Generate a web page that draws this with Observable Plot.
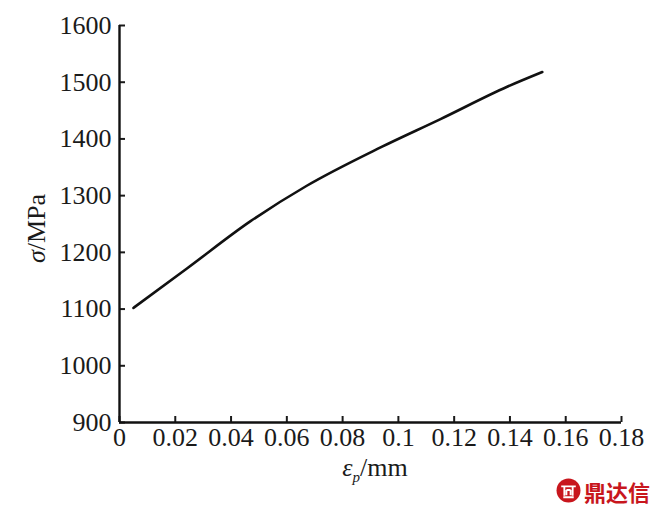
<!DOCTYPE html>
<html><head><meta charset="utf-8">
<script src="https://cdn.jsdelivr.net/npm/d3@7"></script>
<script src="https://cdn.jsdelivr.net/npm/@observablehq/plot@0.6"></script>
<style>
body{margin:0;background:#fff;}
#wrap{position:relative;width:660px;height:514px;background:#fff;}
#wrap svg text{font-family:"Liberation Serif",serif !important;}
#wm{position:absolute;left:556px;top:478px;display:flex;align-items:center;gap:3px;color:#c8161d;font-family:"Noto Sans CJK SC",sans-serif;font-weight:700;font-size:22px;line-height:1;}
</style></head><body><div id="wrap"></div>
<script>
// strain εp (mm) and stress σ (MPa)
const strain = [0.005, 0.0243, 0.047, 0.067, 0.0936, 0.1151, 0.139, 0.1516];
const stress = [1102, 1172, 1255, 1317, 1385, 1435, 1492, 1518];
const xTicks = [0, 0.02, 0.04, 0.06, 0.08, 0.1, 0.12, 0.14, 0.16, 0.18];
const xTickLabels = ["0", "0.02", "0.04", "0.06", "0.08", "0.1", "0.12", "0.14", "0.16", "0.18"];
const yTicks = [900, 1000, 1100, 1200, 1300, 1400, 1500, 1600];
const yTickLabels = ["900", "1000", "1100", "1200", "1300", "1400", "1500", "1600"];

const data = strain.map((x, i) => ({x, y: stress[i]}));
const serif = "Liberation Serif";

const plot = Plot.plot({
  width: 660, height: 514,
  marginLeft: 119, marginRight: 39, marginTop: 25, marginBottom: 92,
  style: {fontFamily: serif, fontSize: "26px", color: "#1a1a1a", background: "#fff", overflow: "visible"},
  x: {domain: [0, 0.18]},
  y: {domain: [900, 1600]},
  marks: [
    Plot.axisX({ticks: xTicks, tickFormat: (d, i) => xTickLabels[i], tickSize: -6, tickPadding: 11, strokeWidth: 2, label: null, fontSize: 26}),
    Plot.axisY({ticks: yTicks, tickFormat: (d, i) => yTickLabels[i], tickSize: -6, tickPadding: 14, strokeWidth: 2, label: null, fontSize: 26}),
    Plot.ruleX([0], {y1: 900, y2: 1600, strokeWidth: 2.4, stroke: "#111"}),
    Plot.ruleY([900], {x1: 0, x2: 0.18, strokeWidth: 2.4, stroke: "#111"}),
    Plot.line(data, {x: "x", y: "y", stroke: "#111", strokeWidth: 2.6, curve: "monotone-x"})
  ]
});
document.getElementById("wrap").appendChild(plot);

const svg = d3.select(plot);
svg.selectAll("g[aria-label$='tick label'], g[aria-label$='tick label'] text")
  .attr("font-family", serif).style("font-family", "'Liberation Serif', serif");

// axis titles with italic symbols
const xs = plot.scale("x"), ys = plot.scale("y");
const xl = svg.append("text")
  .attr("x", (xs.apply(0) + xs.apply(0.18)) / 2 + 5)
  .attr("y", 476)
  .attr("text-anchor", "middle")
  .attr("font-size", 26).attr("fill", "#1a1a1a");
xl.append("tspan").attr("font-style", "italic").text("ε");
xl.append("tspan").attr("font-style", "italic").attr("font-size", 15).attr("dy", 6).text("p");
xl.append("tspan").attr("dy", -6).text("/mm");

const yl = svg.append("text")
  .attr("transform", `translate(45,${(ys.apply(900) + ys.apply(1600)) / 2 + 5}) rotate(-90)`)
  .attr("text-anchor", "middle")
  .attr("font-size", 26).attr("fill", "#1a1a1a");
yl.append("tspan").attr("font-style", "italic").text("σ");
yl.append("tspan").text("/MPa");

// watermark
const wm = document.createElement("div");
wm.id = "wm";
wm.innerHTML = '<svg width="25" height="25" viewBox="0 0 24 24"><circle cx="12" cy="12" r="11.5" fill="#c8161d"/><path d="M5 8h14M8 8v9M16 8v9M10 11.5h4M10 11.5v5M14 11.5v5M7 18.5h10" stroke="#fff" stroke-width="1.8" fill="none"/></svg><span>鼎达信</span>';
document.getElementById("wrap").appendChild(wm);
</script>
</body></html>
